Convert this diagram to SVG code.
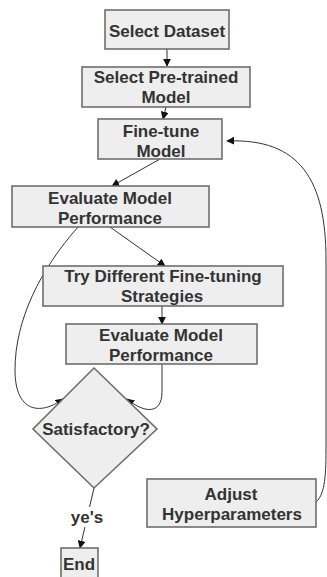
<svg xmlns="http://www.w3.org/2000/svg" width="327" height="577" viewBox="0 0 327 577">
<style>
.box{fill:#eeeeee;stroke:#6e6e6e;stroke-width:1.6}
.t{font-family:"Liberation Sans",Arial,sans-serif;font-weight:bold;font-size:17px;fill:#333333;text-anchor:middle}
.c{fill:none;stroke:#333333;stroke-width:1}
.a{marker-end:url(#ah)}
</style>
<defs>
<marker id="ah" viewBox="0 0 10 10" refX="9" refY="5" markerWidth="8" markerHeight="8" markerUnits="userSpaceOnUse" orient="auto">
<path d="M0,0 L10,5 L0,10 z" fill="#111111"/>
</marker>
</defs>
<rect width="327" height="577" fill="#ffffff"/>
<g id="connectors">
<path class="c a" d="M167,49 L167,66"/>
<path class="c a" d="M166,107 L163,119"/>
<path class="c a" d="M160,159 L112,186"/>
<path class="c a" d="M110,227 L165,266"/>
<path class="c a" d="M162,306 L162,324"/>
<path class="c a" d="M78,227 C40,270 15,320 15,370 C15,412 40,416 63,399"/>
<path class="c a" d="M162,364 L162,392 C162,414 145,414 127,399"/>
<path class="c a" d="M316,502 C324,495 326,480 326,450 L326,260 C326,180 300,138 227,141"/>
<path class="c a" d="M94,488 L80,548"/>
<rect x="71" y="507" width="33" height="20" fill="#ffffff"/>
<text class="t" x="87" y="523">ye's</text>
</g>
<g id="select-dataset">
<rect class="box" x="105" y="10" width="124" height="39"/>
<text class="t" x="167" y="37">Select Dataset</text>
</g>
<g id="select-pretrained">
<rect class="box" x="82" y="67" width="168" height="40"/>
<text class="t" x="166" y="83">Select Pre-trained</text>
<text class="t" x="166" y="103">Model</text>
</g>
<g id="fine-tune">
<rect class="box" x="98" y="119" width="124" height="40"/>
<text class="t" x="161" y="137">Fine-tune</text>
<text class="t" x="161" y="157">Model</text>
</g>
<g id="evaluate-1">
<rect class="box" x="12" y="186" width="197" height="41"/>
<text class="t" x="110" y="204">Evaluate Model</text>
<text class="t" x="110" y="224">Performance</text>
</g>
<g id="try-different">
<rect class="box" x="43" y="266" width="240" height="40"/>
<text class="t" x="163" y="282">Try Different Fine-tuning</text>
<text class="t" x="162" y="302">Strategies</text>
</g>
<g id="evaluate-2">
<rect class="box" x="66" y="324" width="191" height="40"/>
<text class="t" x="161" y="341">Evaluate Model</text>
<text class="t" x="161" y="361">Performance</text>
</g>
<g id="satisfactory">
<polygon class="box" points="94,368 157,429 94,488 33,429"/>
<text class="t" x="96" y="435">Satisfactory?</text>
</g>
<g id="adjust">
<rect class="box" x="147" y="479" width="169" height="48"/>
<text class="t" x="231" y="500">Adjust</text>
<text class="t" x="232" y="520">Hyperparameters</text>
</g>
<g id="end">
<rect class="box" x="61" y="548" width="37" height="36"/>
<text class="t" x="79" y="570">End</text>
</g>
</svg>
